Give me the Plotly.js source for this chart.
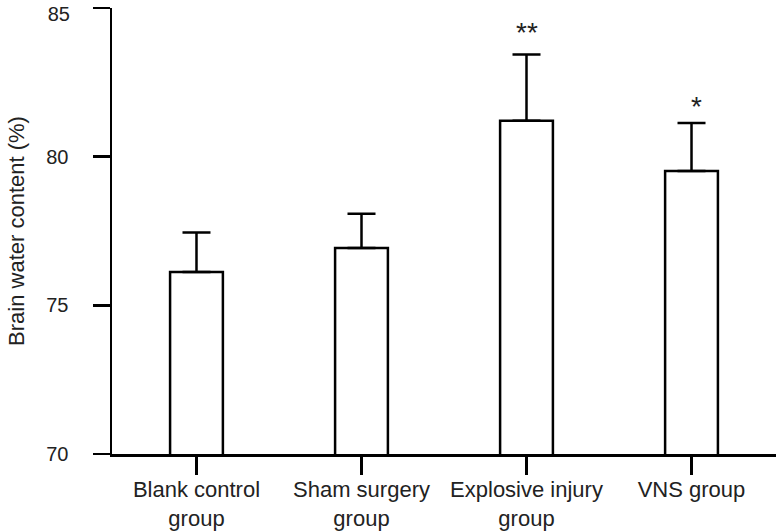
<!DOCTYPE html>
<html>
<head>
<meta charset="utf-8">
<script src="https://cdn.plot.ly/plotly-3.0.1.min.js"></script>
<style>html,body{margin:0;padding:0;background:#fff;}#chart{width:776px;height:532px;}</style>
</head>
<body>
<div id="chart"></div>
<script>
const groups = ['Blank control<br>group', 'Sham surgery<br>group', 'Explosive injury<br>group', 'VNS group'];
const meanValues = [76.12, 76.93, 81.21, 79.52];
const errorUp = [1.33, 1.15, 2.23, 1.61];
const sigLabels = ['', '', '**', '*'];
const yTicks = [70, 75, 80, 85];

const FONT = 'Liberation Sans, Arial, sans-serif';
const xIdx = groups.map((_, i) => i);
const yMin = yTicks[0], yMax = yTicks[yTicks.length - 1];

const trace = {
  type: 'bar',
  x: xIdx,
  y: meanValues,
  base: 0,
  width: 0.32,
  marker: {color: '#ffffff', line: {color: '#000000', width: 2.5}},
  error_y: {
    type: 'data', symmetric: false,
    array: errorUp,
    arrayminus: errorUp.map(() => 0),
    color: '#000000', thickness: 2.5, width: 14
  },
  hoverinfo: 'none'
};

const annotations = sigLabels.map((s, i) => ({
  x: i + (s.length === 1 ? 0.03 : 0),
  y: meanValues[i] + errorUp[i],
  xref: 'x', yref: 'y',
  text: s, showarrow: false,
  yanchor: 'bottom', yshift: s.length === 1 ? -1 : 4,
  font: {family: FONT, size: 28, color: '#222'}
})).filter(a => a.text);

const tickFont = {family: FONT, size: 20, color: '#222'};

const layout = {
  width: 776, height: 532,
  margin: {l: 112, r: 0, t: 8, b: 78, pad: 0},
  paper_bgcolor: '#fff', plot_bgcolor: '#fff',
  showlegend: false,
  font: {family: FONT, color: '#222'},
  xaxis: {
    range: [-0.512, 3.512],
    tickmode: 'array', tickvals: xIdx, ticktext: groups,
    showgrid: false, zeroline: false,
    showline: true, linecolor: '#000', linewidth: 2.5,
    ticks: 'outside', ticklen: 18, tickwidth: 2.5, tickcolor: '#000',
    tickfont: {family: FONT, size: 22, color: '#222'},
    ticklabelstandoff: -4,
    ticklabeloverflow: 'allow',
    fixedrange: true
  },
  yaxis: {
    range: [yMin, yMax],
    tickmode: 'array', tickvals: yTicks,
    ticktext: yTicks.map(v => v === yMax ? '' : String(v)),
    showgrid: false, zeroline: false,
    showline: true, linecolor: '#000', linewidth: 2.5,
    ticks: 'outside', ticklen: 17, tickwidth: 2.5, tickcolor: '#000',
    tickfont: tickFont,
    ticklabelstandoff: 20,
    ticklabeloverflow: 'allow',
    title: {text: 'Brain water content (%)', font: {family: FONT, size: 22, color: '#222'}, standoff: 16},
    fixedrange: true
  },
  yaxis2: {
    overlaying: 'y', side: 'left',
    range: [yMin, yMax],
    tickmode: 'array', tickvals: [yMax], ticktext: [String(yMax)],
    showgrid: false, zeroline: false, showline: false,
    ticks: 'outside', ticklen: 17, tickwidth: 0, tickcolor: 'rgba(0,0,0,0)',
    tickfont: tickFont,
    ticklabelstandoff: 20,
    ticklabelshift: 6,
    ticklabeloverflow: 'allow',
    fixedrange: true
  },
  annotations: annotations
};

const helper = {type: 'scatter', x: [], y: [], yaxis: 'y2', hoverinfo: 'none', showlegend: false};

Plotly.newPlot('chart', [trace, helper], layout, {displayModeBar: false, staticPlot: true});
</script>
</body>
</html>
